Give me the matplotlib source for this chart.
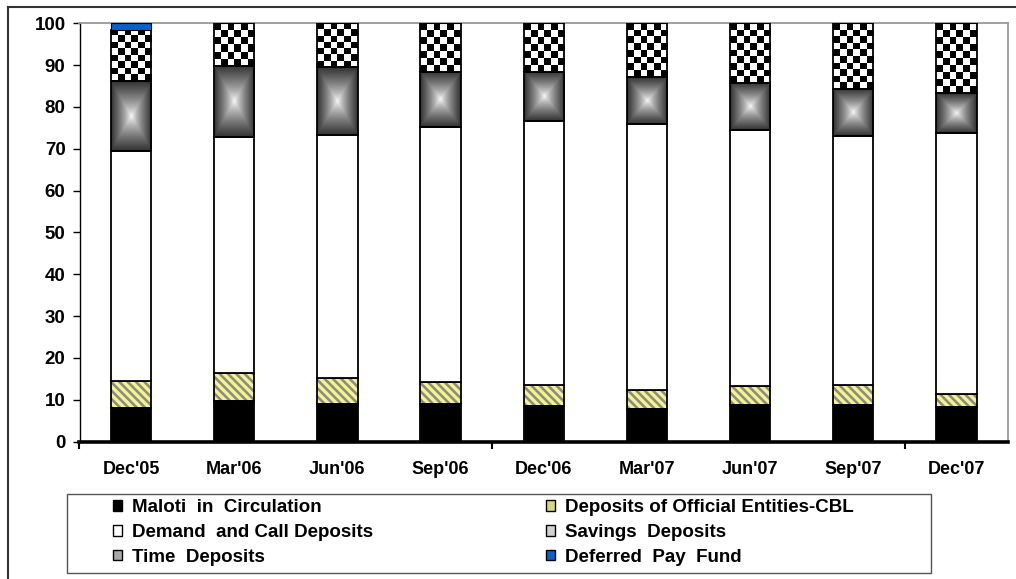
import matplotlib
matplotlib.use("Agg")
import matplotlib.pyplot as plt
import numpy as np
from matplotlib.patches import Patch, Rectangle
from matplotlib.lines import Line2D

plt.rcParams["font.family"] = ["Liberation Sans", "DejaVu Sans"]
plt.rcParams["font.weight"] = "bold"
plt.rcParams["hatch.linewidth"] = 2.4

quarters = ["Dec'05", "Mar'06", "Jun'06", "Sep'06", "Dec'06",
            "Mar'07", "Jun'07", "Sep'07", "Dec'07"]

# percentage shares of broad money
maloti = [8.0, 9.6, 8.9, 9.0, 8.6, 7.8, 8.8, 8.8, 8.2]
official_cbl = [6.4, 6.7, 6.3, 5.2, 5.0, 4.6, 4.4, 4.6, 3.2]
demand_call = [55.0, 56.4, 58.2, 61.0, 63.0, 63.6, 61.2, 59.6, 62.4]
savings = [16.7, 17.1, 16.1, 13.2, 11.8, 11.2, 11.3, 11.4, 9.5]
time_dep = [12.4, 10.2, 10.5, 11.6, 11.6, 12.8, 14.3, 15.6, 16.7]
deferred = [1.5, 0, 0, 0, 0, 0, 0, 0, 0]

W, H = 1016, 579
fig = plt.figure(figsize=(W / 100, H / 100), dpi=100)
ax = fig.add_axes([79.5 / W, 1 - 441.5 / H, (1008 - 79.5) / W, (441.5 - 23.3) / H])

x = np.arange(len(quarters))
bw = 0.39
ol = dict(edgecolor="black", linewidth=1.3, zorder=3)

b0 = np.zeros(len(x))
ax.bar(x, maloti, bw, bottom=b0, color="black", **ol)
b1 = b0 + maloti
# striped segment: grey face with yellow diagonal hatch, outline drawn on top
ax.bar(x, official_cbl, bw, bottom=b1, facecolor="#8a8a8a", edgecolor="#f4f48a",
       hatch="\\\\\\\\", linewidth=0, zorder=2.8)
ax.bar(x, official_cbl, bw, bottom=b1, fill=False, **ol)
b2 = b1 + official_cbl
ax.bar(x, demand_call, bw, bottom=b2, color="white", **ol)
b3 = b2 + demand_call
sav_bars = ax.bar(x, savings, bw, bottom=b3, fill=False, **ol)
b4 = b3 + savings
time_bars = ax.bar(x, time_dep, bw, bottom=b4, fill=False, **ol)
b5 = b4 + time_dep
ax.bar(x, deferred, bw, bottom=b5, color="#0a62c8", edgecolor="black", linewidth=0.8, zorder=3)

ax.set_xlim(-0.5, len(quarters) - 0.5)
ax.set_ylim(0, 100)

# rectangular "from centre" gradient for savings deposits
n = 120
gx, gy = np.meshgrid(np.linspace(-1, 1, n), np.linspace(-1, 1, n))
dist = np.maximum(np.abs(gx), np.abs(gy))
grad = 1.0 - 0.8 * dist ** 0.75
for bar in sav_bars:
    x0, y0 = bar.get_x(), bar.get_y()
    ax.imshow(grad, cmap="gray", vmin=0, vmax=1, extent=(x0, x0 + bar.get_width(), y0, y0 + bar.get_height()),
              aspect="auto", interpolation="bilinear", zorder=2.5)

# checkerboard for time deposits, cells roughly 7 px square
fig.canvas.draw()
for bar in time_bars:
    x0, y0 = bar.get_x(), bar.get_y()
    x1, y1 = x0 + bar.get_width(), y0 + bar.get_height()
    p0 = ax.transData.transform((x0, y0))
    p1 = ax.transData.transform((x1, y1))
    nc = max(1, int(round((p1[0] - p0[0]) / 6.7)))
    nr = max(1, int(round((p1[1] - p0[1]) / 6.7)))
    cb = (np.add.outer(np.arange(nr), np.arange(nc)) % 2).astype(float)
    ax.imshow(cb, cmap="gray", vmin=0, vmax=1, extent=(x0, x1, y0, y1),
              aspect="auto", interpolation="nearest", zorder=2.5)

ax.set_xlim(-0.5, len(quarters) - 0.5)
ax.set_ylim(0, 100)

ax.set_yticks(np.arange(0, 101, 10))
ax.tick_params(axis="y", direction="out", length=5, width=1, pad=5, labelsize=13.5)
ax.set_xticks(x)
ax.set_xticklabels(quarters)
ax.tick_params(axis="x", length=0, pad=14, labelsize=13)
ax.set_xticks([-0.5, 3.5, 7.5], minor=True)
ax.tick_params(axis="x", which="minor", direction="out", length=5, width=1.5)

for side in ("top", "right"):
    ax.spines[side].set_color("#999999")
    ax.spines[side].set_linewidth(1.3)
ax.spines["left"].set_linewidth(1)
ax.spines["bottom"].set_linewidth(2.6)

# legend: two single-column legends inside one hand-drawn frame
left_col = [
    Patch(facecolor="black", edgecolor="black", label="Maloti  in  Circulation"),
    Patch(facecolor="white", edgecolor="black", label="Demand  and Call Deposits"),
    Patch(facecolor="#a8a8a8", edgecolor="black", label="Time  Deposits"),
]
right_col = [
    Patch(facecolor="#d8d878", edgecolor="black", label="Deposits of Official Entities-CBL"),
    Patch(facecolor="#d0d0d0", edgecolor="black", label="Savings  Deposits"),
    Patch(facecolor="#0a62c8", edgecolor="black", label="Deferred  Pay  Fund"),
]
leg_kw = dict(loc="upper left", frameon=False, fontsize=13.5, handlelength=0.5,
              handleheight=0.5, handletextpad=0.5, labelspacing=0.42,
              borderpad=0, borderaxespad=0)
fig.legend(handles=left_col, bbox_to_anchor=(113 / W, 1 - 499 / H), **leg_kw)
fig.legend(handles=right_col, bbox_to_anchor=(546 / W, 1 - 499 / H), **leg_kw)
fig.add_artist(Rectangle((67 / W, 1 - 573 / H), (931 - 67) / W, (573 - 494) / H,
                         transform=fig.transFigure, fill=False, edgecolor="#555555", linewidth=1.0))

# chart-area border
fig.add_artist(Line2D([8 / W, 1.0], [1 - 6.5 / H] * 2, color="#333333", linewidth=1.5))
fig.add_artist(Line2D([8 / W] * 2, [0.0, 1 - 6.5 / H], color="#333333", linewidth=1.5))

fig.savefig("out.png", dpi=100)
